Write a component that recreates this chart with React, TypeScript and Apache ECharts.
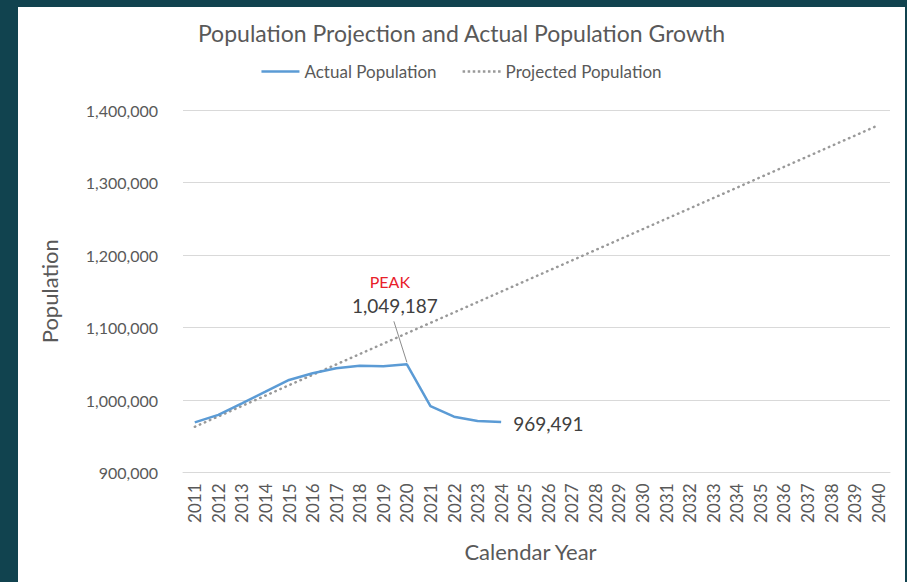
import React, { useEffect, useRef } from "react";
import * as echarts from "echarts";

const years = [
  "2011", "2012", "2013", "2014", "2015", "2016", "2017", "2018", "2019", "2020",
  "2021", "2022", "2023", "2024", "2025", "2026", "2027", "2028", "2029", "2030",
  "2031", "2032", "2033", "2034", "2035", "2036", "2037", "2038", "2039", "2040",
];

const actualPopulation = [
  969100, 979500, 995400, 1011400, 1027600, 1036800, 1043700, 1047300, 1046500, 1049187,
  991700, 977000, 971000, 969491,
];

const projectedPopulation = [
  963000, 977300, 991700, 1006000, 1020400, 1034700, 1049000, 1063400, 1077700, 1092100,
  1106400, 1120700, 1135100, 1149400, 1163800, 1178100, 1192400, 1206800, 1221100, 1235500,
  1249800, 1264100, 1278500, 1292800, 1307200, 1321500, 1335800, 1350200, 1364500, 1378900,
];

const yTicks = [900000, 1000000, 1100000, 1200000, 1300000, 1400000];

const peakIndex = 9;
const lastIndex = 13;

const FONT = "Lato, 'Noto Sans', sans-serif";

const SOLID_ICON = "path://M0,0L40,0L40,2.5L0,2.5Z";
const DOTTED_ICON =
  "path://" +
  [0, 5, 10, 15, 20, 25, 30, 35]
    .map((x) => `M${x},0L${x + 2.5},0L${x + 2.5},2.5L${x},2.5Z`)
    .join("");

export default function App() {
  const ref = useRef<HTMLDivElement>(null);

  useEffect(() => {
    if (!ref.current) return;
    const chart = echarts.init(ref.current, undefined, { renderer: "svg" });
    const fmt = (v: number) => v.toLocaleString("en-US");
    chart.setOption({
      animation: false,
      backgroundColor: "#ffffff",
      textStyle: { fontFamily: FONT },
      title: {
        text: "Population Projection and Actual Population Growth",
        left: "center",
        top: 9,
        textStyle: { fontFamily: FONT, fontSize: 23, fontWeight: "normal", color: "#595959" },
      },
      legend: {
        top: 51,
        left: "center",
        itemWidth: 38,
        itemHeight: 12,
        itemGap: 26,
        textStyle: { fontFamily: FONT, fontSize: 17, color: "#595959" },
        data: [
          { name: "Actual Population", icon: SOLID_ICON, itemStyle: { color: "#5b9bd5" } },
          { name: "Projected Population", icon: DOTTED_ICON, itemStyle: { color: "#999999" } },
        ],
      },
      grid: { left: 165, top: 103, width: 707, height: 362.5 },
      xAxis: {
        type: "category",
        data: years,
        boundaryGap: true,
        name: "Calendar Year",
        nameLocation: "middle",
        nameGap: 68,
        nameTextStyle: { fontFamily: FONT, fontSize: 22, color: "#595959", padding: [0, 12, 0, 0] },
        axisLine: { show: true, lineStyle: { color: "#d9d9d9", width: 1 } },
        axisTick: { show: false },
        axisLabel: { rotate: 90, margin: 11, fontSize: 17, color: "#595959", fontFamily: FONT, interval: 0 },
      },
      yAxis: {
        type: "value",
        min: yTicks[0],
        max: yTicks[yTicks.length - 1],
        interval: 100000,
        name: "Population",
        nameLocation: "middle",
        nameGap: 123,
        nameRotate: 90,
        nameTextStyle: { fontFamily: FONT, fontSize: 22, color: "#595959" },
        axisLine: { show: false },
        axisTick: { show: false },
        axisLabel: { margin: 25, fontSize: 16, color: "#595959", fontFamily: FONT, formatter: (v: number) => fmt(v) },
        splitLine: { lineStyle: { color: "#d9d9d9", width: 1 } },
      },
      series: [
        {
          name: "Projected Population",
          type: "line",
          data: projectedPopulation,
          showSymbol: false,
          symbol: "none",
          lineStyle: { color: "#999999", width: 2.5, type: [0.5, 5], cap: "round" },
          itemStyle: { color: "#999999" },
          z: 2,
        },
        {
          name: "Actual Population",
          type: "line",
          data: actualPopulation,
          showSymbol: false,
          symbol: "none",
          lineStyle: { color: "#5b9bd5", width: 2.5 },
          itemStyle: { color: "#5b9bd5" },
          z: 3,
        },
      ],
    });

    const peak = chart.convertToPixel({ gridIndex: 0 }, [peakIndex, actualPopulation[peakIndex]]) as number[];
    const last = chart.convertToPixel({ gridIndex: 0 }, [lastIndex, actualPopulation[lastIndex]]) as number[];
    chart.setOption({
      graphic: [
        {
          type: "line",
          shape: { x1: peak[0], y1: peak[1] - 2, x2: peak[0] - 13, y2: peak[1] - 43 },
          style: { stroke: "#8c8c8c", lineWidth: 1 },
          z: 10,
        },
        {
          type: "text",
          x: peak[0] - 12,
          y: peak[1] - 59,
          style: {
            text: fmt(actualPopulation[peakIndex]),
            fontFamily: FONT,
            fontSize: 19,
            fill: "#404040",
            align: "center",
            verticalAlign: "middle",
          },
          z: 10,
        },
        {
          type: "text",
          x: peak[0] - 17,
          y: peak[1] - 83,
          style: {
            text: "PEAK",
            fontFamily: FONT,
            fontSize: 16,
            fill: "#e8202a",
            align: "center",
            verticalAlign: "middle",
          },
          z: 10,
        },
        {
          type: "text",
          x: last[0] + 12,
          y: last[1] + 1,
          style: {
            text: fmt(actualPopulation[lastIndex]),
            fontFamily: FONT,
            fontSize: 19,
            fill: "#404040",
            align: "left",
            verticalAlign: "middle",
          },
          z: 10,
        },
      ],
    });
    return () => chart.dispose();
  }, []);

  return (
    <div style={{ position: "absolute", left: 0, top: 0, width: 907, height: 582, background: "#11434f" }}>
      <div
        ref={ref}
        style={{ position: "absolute", left: 18, top: 7, width: 887, height: 575, background: "#ffffff" }}
      />
    </div>
  );
}
